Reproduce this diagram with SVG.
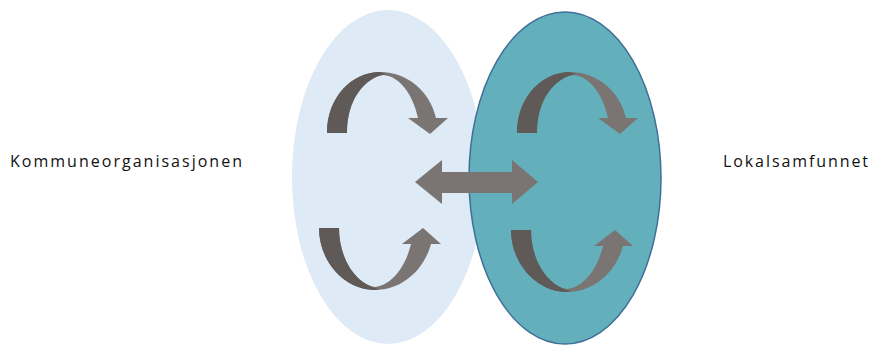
<svg xmlns="http://www.w3.org/2000/svg" width="874" height="345" viewBox="0 0 874 345">
  <style>
    .lbl { font-family: "Open Sans", "Liberation Sans", Arial, sans-serif; font-size: 16px; fill: #111111; }
    .arw { fill: #7a7573; }
    .drk { fill: #5f5957; }
  </style>
  <defs>
    <g id="curveTop">
      <path class="arw" d="M327,133 C327,97 352,72 380,72 C408,72 430,92 436,118 L448,118 L430,134 L408,118 L418,118 C413,95 400,76 383,75 C362,78 347,100 347,133 Z"/>
      <path class="drk" d="M327,133 C327,97 352,72 380,72 L386,74 C364,78 347,100 347,133 Z"/>
    </g>
    <g id="curveBottom">
      <path class="arw" d="M319,228 L339,228 C339,258 355,284 375,287 C393,285 406,265 411,244 L402,244 L423,228 L441,244 L431,244 C424,270 402,290 375,290 C345,290 319,262 319,228 Z"/>
      <path class="drk" d="M319,228 L339,228 C339,258 355,284 379,289 L375,290 C345,290 319,262 319,228 Z"/>
    </g>
  </defs>
  <rect width="874" height="345" fill="#ffffff"/>
  <g id="node-kommune">
    <ellipse cx="388" cy="177" rx="96" ry="167" fill="#deeaf6"/>
  </g>
  <g id="node-lokalsamfunn">
    <ellipse cx="565" cy="178" rx="96" ry="166" fill="#63b0bc" stroke="#3f6f98" stroke-width="1.5"/>
  </g>
  <g id="connectors">
    <use href="#curveTop"/>
    <use href="#curveBottom"/>
    <use href="#curveTop" transform="translate(190,0)"/>
    <use href="#curveBottom" transform="translate(192,2)"/>
    <path class="arw" d="M415,182 L442,160 L442,172 L512,172 L512,160 L538,182 L512,204 L512,193 L442,193 L442,204 Z"/>
  </g>
  <g id="label-kommune">
    <text class="lbl" x="10" y="167" textLength="232" lengthAdjust="spacing">Kommuneorganisasjonen</text>
  </g>
  <g id="label-lokalsamfunn">
    <text class="lbl" x="723" y="167" textLength="145" lengthAdjust="spacing">Lokalsamfunnet</text>
  </g>
</svg>
